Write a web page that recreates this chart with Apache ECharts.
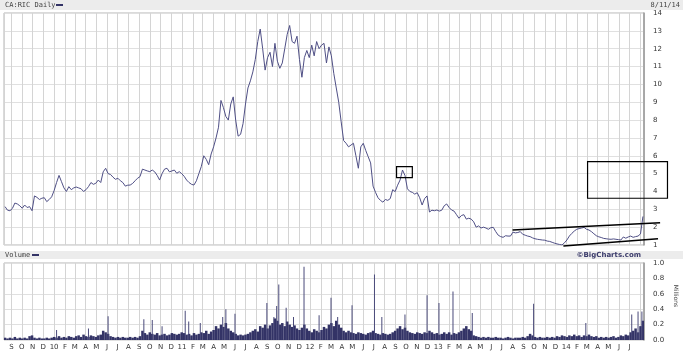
<!DOCTYPE html>
<html><head><meta charset="utf-8">
<script src="https://cdn.jsdelivr.net/npm/echarts@6/dist/echarts.min.js"></script>
<style>html,body{margin:0;padding:0;background:#fff}#c{width:683px;height:352px}</style>
</head><body><div id="c"></div>
<script>
// ---- data ----
const axisStart = '2009-08-11';
const axisEnd = '2014-08-11';
const firstWeek = '2009-08-14'; // weekly closes, one value per week
const monthLetters = ['J','F','M','A','M','J','J','A','S','O','N','D'];

const price = [
3.15,2.95,2.92,3.05,3.35,3.3,3.2,3.06,3.24,3.1,
3.15,2.92,3.75,3.67,3.55,3.62,3.65,3.43,3.55,3.7,
4.05,4.5,4.9,4.55,4.2,4.0,4.27,4.1,4.2,4.25,
4.2,4.15,4.0,4.1,4.27,4.5,4.4,4.46,4.64,4.5,
5.1,5.3,5.0,4.95,4.8,4.68,4.74,4.6,4.5,4.3,
4.35,4.36,4.45,4.6,4.74,4.83,5.25,5.2,5.15,5.11,
5.2,5.1,4.9,4.64,5.0,5.25,5.3,5.1,5.15,5.2,
5.02,5.11,5.0,4.85,4.64,4.5,4.4,4.36,4.6,5.0,
5.4,6.0,5.8,5.5,6.1,6.5,7.0,7.6,9.1,8.7,
8.2,8.0,8.9,9.3,8.0,7.1,7.2,7.8,8.9,9.8,
10.2,10.7,11.4,12.4,13.1,12.0,10.8,11.5,11.8,11.0,
12.3,11.3,10.9,11.2,12.0,12.8,13.3,12.4,12.3,12.7,
11.4,10.4,11.5,11.9,11.5,12.2,11.6,12.4,12.0,12.2,
12.3,11.2,12.1,11.6,10.6,9.8,9.0,7.9,6.85,6.7,
6.5,6.6,6.7,6.0,5.3,6.5,6.7,6.3,5.95,5.6,
4.3,3.95,3.65,3.5,3.4,3.55,3.5,3.6,4.1,3.99,
4.35,4.64,5.2,4.9,4.15,4.0,3.95,3.85,3.93,3.65,
3.24,3.6,3.75,2.85,2.95,2.92,2.96,2.9,2.95,3.2,
3.3,3.1,2.96,2.9,2.7,2.5,2.65,2.7,2.45,2.5,
2.45,2.3,2.0,2.07,1.95,2.0,1.95,1.88,1.97,1.99,
1.75,1.55,1.47,1.43,1.52,1.5,1.5,1.72,1.68,1.7,
1.75,1.6,1.55,1.5,1.47,1.4,1.35,1.32,1.3,1.28,
1.27,1.22,1.2,1.15,1.1,1.06,1.03,1.0,1.12,1.28,
1.5,1.65,1.78,1.88,1.92,1.95,1.99,1.88,1.84,1.75,
1.63,1.52,1.46,1.42,1.37,1.35,1.33,1.32,1.34,1.32,
1.3,1.28,1.45,1.38,1.45,1.5,1.43,1.47,1.5,1.62,2.6
];

// typical weekly volume (millions)
const volume = [
0.03,0.02,0.03,0.02,0.04,0.02,0.03,0.02,0.03,0.02,
0.05,0.06,0.03,0.02,0.03,0.02,0.02,0.03,0.02,0.03,
0.04,0.03,0.05,0.03,0.04,0.03,0.05,0.04,0.03,0.05,
0.06,0.04,0.07,0.05,0.04,0.06,0.05,0.04,0.06,0.07,
0.12,0.1,0.08,0.05,0.04,0.03,0.04,0.03,0.04,0.03,
0.03,0.04,0.03,0.04,0.03,0.05,0.12,0.09,0.07,0.1,
0.08,0.07,0.09,0.06,0.07,0.08,0.06,0.07,0.09,0.08,
0.07,0.08,0.1,0.09,0.07,0.08,0.06,0.09,0.07,0.08,
0.1,0.09,0.12,0.08,0.11,0.13,0.18,0.15,0.2,0.17,
0.22,0.15,0.12,0.1,0.08,0.06,0.07,0.06,0.07,0.08,
0.1,0.12,0.14,0.11,0.18,0.16,0.2,0.15,0.19,0.22,
0.28,0.25,0.2,0.22,0.18,0.24,0.2,0.17,0.19,0.15,
0.13,0.16,0.2,0.15,0.12,0.1,0.14,0.12,0.1,0.13,
0.17,0.15,0.2,0.22,0.18,0.25,0.2,0.16,0.12,0.1,
0.12,0.1,0.09,0.08,0.1,0.09,0.08,0.07,0.09,0.1,
0.12,0.09,0.08,0.07,0.09,0.08,0.07,0.08,0.1,0.12,
0.15,0.18,0.14,0.16,0.12,0.1,0.09,0.08,0.1,0.09,
0.08,0.1,0.09,0.12,0.1,0.08,0.09,0.07,0.08,0.1,
0.08,0.1,0.07,0.09,0.08,0.1,0.12,0.15,0.18,0.14,
0.12,0.06,0.05,0.04,0.03,0.04,0.03,0.04,0.03,0.03,
0.04,0.03,0.03,0.02,0.03,0.04,0.03,0.02,0.03,0.03,
0.03,0.04,0.03,0.05,0.08,0.06,0.04,0.03,0.04,0.03,
0.03,0.04,0.03,0.04,0.03,0.05,0.04,0.06,0.05,0.04,
0.06,0.05,0.07,0.05,0.06,0.04,0.06,0.05,0.07,0.05,
0.04,0.05,0.03,0.04,0.03,0.04,0.03,0.04,0.05,0.03,
0.04,0.06,0.05,0.07,0.06,0.1,0.12,0.15,0.1,0.18,0.25
];

// single-day volume spikes (millions)
const spikeDates = ['2010-01-08','2010-04-09','2010-06-04','2010-09-14','2010-10-08','2010-11-05','2011-01-10','2011-01-20','2011-02-22','2011-04-27','2011-05-06','2011-06-01','2011-08-31','2011-09-20','2011-09-28','2011-10-04','2011-10-25','2011-11-15','2011-12-15','2012-01-27','2012-03-01','2012-03-20','2012-04-30','2012-07-03','2012-07-24','2012-09-28','2012-11-30','2013-01-03','2013-02-12','2013-04-08','2013-09-30','2014-02-26','2014-07-07','2014-07-25','2014-08-05'];
const spikeValues = [0.13,0.15,0.31,0.27,0.26,0.18,0.38,0.24,0.22,0.30,0.40,0.34,0.48,0.30,0.44,0.72,0.42,0.30,0.95,0.32,0.55,0.30,0.45,0.85,0.30,0.33,0.58,0.48,0.63,0.35,0.47,0.22,0.33,0.37,0.37];

// hand-drawn annotations (date, price)
const trendUpper = [['2013-08-01', 1.84], ['2014-09-26', 2.25]];
const trendLower = [['2013-12-24', 0.94], ['2014-09-20', 1.35]];
const boxSmall = [['2012-09-04', 5.39], ['2012-10-19', 4.77]];
const boxLarge = [['2014-03-03', 5.67], ['2014-10-17', 3.62]];

// ---- chart ----
function toTime(s){ const p = s.split('-').map(Number); return new Date(p[0], p[1]-1, p[2]).getTime(); }
const fw = firstWeek.split('-').map(Number);
const weekTimes = price.map((_, i) => new Date(fw[0], fw[1]-1, fw[2] + 7*i).getTime());
const DAY = 86400000;
const endT = toTime(axisEnd);

function monthFmt(value){
  const d = new Date(value);
  if (d.getDate() !== 1) return '';
  if (endT - value < 15*DAY) return '';
  const m = d.getMonth();
  if (m === 0) return String(d.getFullYear()).slice(2);
  return monthLetters[m];
}
function xAx(gi, showLabel){
  return {
    type:'time', gridIndex: gi, min: toTime(axisStart), max: endT,
    splitNumber: 60, minInterval: 27*DAY, maxInterval: 32*DAY,
    axisLine:{show:false}, axisTick:{show:false},
    splitLine:{show:true, lineStyle:{color:'#d4d4d4', width:1}},
    axisLabel:{show: showLabel, formatter: monthFmt, fontSize:7, color:'#333', margin:4,
      fontFamily:'DejaVu Sans', hideOverlap:false, showMinLabel:false, showMaxLabel:false}
  };
}
function barRender(w, color){
  return function(params, api){
    const t = api.value(0), v = api.value(1);
    const p0 = api.coord([t, 0]), p1 = api.coord([t, v]);
    return {type:'rect', shape:{x: p0[0]-w/2, y: p1[1], width: w, height: p0[1]-p1[1]}, style:{fill: color}};
  };
}

const chart = echarts.init(document.getElementById('c'), null, {renderer:'canvas'});
const labelStyle = {fontSize:7, color:'#333', fontFamily:'DejaVu Sans'};
chart.setOption({
  animation:false,
  backgroundColor:'#fff',
  grid:[
    {left:4, right:39, top:13, height:232, show:true, borderColor:'#b5b5b5', borderWidth:1},
    {left:4, right:39, top:263, height:77, show:true, borderColor:'#b5b5b5', borderWidth:1}
  ],
  xAxis:[xAx(0,false), xAx(1,true)],
  yAxis:[
    {type:'value', gridIndex:0, position:'right', min:1, max:14, interval:1,
     axisLine:{show:true, lineStyle:{color:'#999', width:1.5}}, axisTick:{show:false},
     splitLine:{lineStyle:{color:'#e0e0e0'}},
     axisLabel:Object.assign({margin:9}, labelStyle)},
    {type:'value', gridIndex:1, position:'right', min:0, max:1, interval:0.2,
     axisLine:{show:true, lineStyle:{color:'#999', width:1.5}}, axisTick:{show:false},
     splitLine:{lineStyle:{color:'#e0e0e0'}},
     axisLabel:Object.assign({margin:9, formatter: v => v.toFixed(1)}, labelStyle)}
  ],
  series:[
    {type:'line', xAxisIndex:0, yAxisIndex:0, showSymbol:false, symbol:'none',
     data: weekTimes.map((t,i)=>[t, price[i]]),
     lineStyle:{color:'#4f4f85', width:1}},
    {type:'custom', xAxisIndex:1, yAxisIndex:1, renderItem: barRender(2.5, '#333366'),
     data: weekTimes.map((t,i)=>[t, volume[i]]), clip:true},
    {type:'custom', xAxisIndex:1, yAxisIndex:1, renderItem: barRender(1.0, '#4a4a7a'),
     data: spikeDates.map((d,i)=>[toTime(d), spikeValues[i]]), clip:true}
  ]
});

function px(pt){ return chart.convertToPixel({gridIndex:0}, [toTime(pt[0]), pt[1]]); }
const u0 = px(trendUpper[0]), u1 = px(trendUpper[1]);
const l0 = px(trendLower[0]), l1 = px(trendLower[1]);
const s0 = px(boxSmall[0]), s1 = px(boxSmall[1]);
const b0 = px(boxLarge[0]), b1 = px(boxLarge[1]);
const mono = '7px "DejaVu Sans Mono"';
chart.setOption({
  graphic:[
    {type:'rect', silent:true, z:-10, shape:{x:0,y:0,width:683,height:10}, style:{fill:'#ececec'}},
    {type:'text', x:5, y:5, style:{text:'CA:RIC Daily', font:mono, fill:'#444', verticalAlign:'middle'}},
    {type:'line', shape:{x1:56,y1:5,x2:63,y2:5}, style:{stroke:'#333366', lineWidth:2}},
    {type:'text', x:680, y:5, style:{text:'8/11/14', font:mono, fill:'#444', align:'right', verticalAlign:'middle'}},
    {type:'rect', silent:true, z:-10, shape:{x:0,y:251,width:683,height:8}, style:{fill:'#ececec'}},
    {type:'text', x:5, y:255, style:{text:'Volume', font:mono, fill:'#444', verticalAlign:'middle'}},
    {type:'line', shape:{x1:32,y1:255,x2:39,y2:255}, style:{stroke:'#333366', lineWidth:2}},
    {type:'text', x:641, y:255, style:{text:'\u00A9BigCharts.com', font:'bold 7px "DejaVu Sans"', fill:'#3a3a6a', align:'right', verticalAlign:'middle'}},
    {type:'text', x:676, y:296, rotation:-Math.PI/2, style:{text:'Millions', font:'6px "DejaVu Sans"', fill:'#444', align:'center', verticalAlign:'middle'}},
    {type:'line', z:100, shape:{x1:u0[0],y1:u0[1],x2:u1[0],y2:u1[1]}, style:{stroke:'#000', lineWidth:1.5}},
    {type:'line', z:100, shape:{x1:l0[0],y1:l0[1],x2:l1[0],y2:l1[1]}, style:{stroke:'#000', lineWidth:1.5}},
    {type:'rect', z:100, shape:{x:s0[0],y:s0[1],width:s1[0]-s0[0],height:s1[1]-s0[1]}, style:{fill:'none', stroke:'#000', lineWidth:1.2}},
    {type:'rect', z:100, shape:{x:b0[0],y:b0[1],width:b1[0]-b0[0],height:b1[1]-b0[1]}, style:{fill:'none', stroke:'#000', lineWidth:1.2}}
  ]
});
</script></body></html>
